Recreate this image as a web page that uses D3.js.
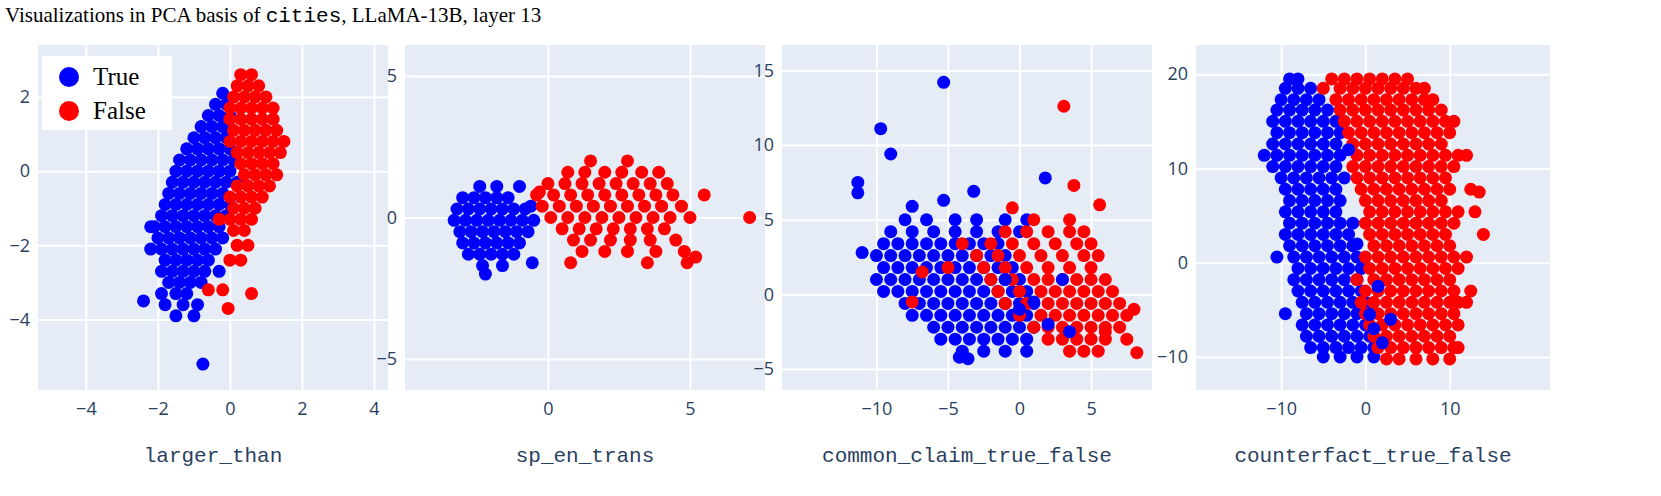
<!DOCTYPE html><html><head><meta charset="utf-8">
<script src="https://cdn.jsdelivr.net/npm/d3@7"></script>
<style>body{margin:0;background:#fff}</style></head><body><svg id="c" width="1661" height="496"></svg>
<script>
// rows: [y, x1, x2, ...]
const p1True=[[2.1,-0.2],[1.8,-0.4,-0.1],[1.5,-0.6,-0.3,0],[1.2,-0.8,-0.5,-0.2],[0.9,-1,-0.7,-0.4,-0.1],[0.6,-1.2,-0.9,-0.6,-0.3,0],[0.3,-1.4,-1.1,-0.8,-0.5,-0.2,0.1],[0,-1.5,-1.2,-0.9,-0.6,-0.3,0],[-0.3,-1.6,-1.3,-1,-0.7,-0.4,-0.1,0.2],[-0.6,-1.7,-1.4,-1.1,-0.8,-0.5,-0.2],[-0.9,-1.8,-1.5,-1.2,-0.9,-0.6,-0.3,0],[-1.2,-1.9,-1.6,-1.3,-1,-0.7,-0.4,-0.1],[-1.5,-2.1,-1.8,-1.5,-1.2,-0.9,-0.6,-0.3],[-1.8,-2,-1.7,-1.4,-1.1,-0.8,-0.5,-0.2],[-2.1,-2.2,-1.9,-1.6,-1.3,-1,-0.7,-0.4],[-2.4,-1.8,-1.5,-1.2,-0.9,-0.6],[-2.7,-1.9,-1.6,-1.3,-1,-0.7,-0.3],[-3,-1.7,-1.4,-1.1,-0.8],[-3.3,-1.9,-1.5,-1.2],[-3.6,-1.8,-1.3,-0.9],[-3.9,-1.5,-1],[-3.5,-2.4],[-5.2,-0.75],[-1.5,-2.2]];
const p1False=[[2.6,0.3,0.6],[2.3,0.2,0.5,0.8],[2,0.1,0.4,0.7,1],[1.7,0,0.3,0.6,0.9,1.2],[1.4,0,0.3,0.6,0.9,1.2],[1.1,0.1,0.4,0.7,1,1.3],[0.8,0,0.3,0.6,0.9,1.2,1.5],[0.5,0.2,0.5,0.8,1.1,1.4],[0.2,0.3,0.6,0.9,1.2],[-0.1,0.4,0.7,1,1.3],[-0.4,0.2,0.5,0.8,1.1],[-0.7,0,0.3,0.6,0.9],[-1,0.1,0.4,0.7],[-1.3,-0.3,0,0.3,0.6],[-1.6,0.1,0.4],[-2,0.2,0.5],[-2.4,0,0.3],[-3.2,-0.6,-0.2],[-3.3,0.6],[-3.7,-0.05]];
const p2True=[[1.1,-2.4,-1.8],[0.7,-3,-2.6,-2.2,-1.8,-1.4],[0.3,-3.2,-2.8,-2.4,-2,-1.6,-1.2,-0.8],[-0.1,-3.3,-2.9,-2.5,-2.1,-1.7,-1.3,-0.9,-0.5],[-0.5,-3.1,-2.7,-2.3,-1.9,-1.5,-1.1,-0.7],[-0.9,-3,-2.6,-2.2,-1.8,-1.4,-1],[-1.3,-2.8,-2.4,-2,-1.6,-1.2],[-1.7,-2.3,-1.6],[-2,-2.2],[-1.6,-0.55],[0.4,-0.6],[1.1,-1]];
const p2False=[[2,1.5,2.8],[1.6,0.7,1.3,2,2.6,3.3,3.9],[1.2,0,0.6,1.2,1.8,2.4,3,3.6,4.2],[0.8,-0.4,0.2,0.8,1.4,2,2.6,3.2,3.8,4.4,5.5],[0.4,-0.2,0.4,1,1.6,2.2,2.8,3.4,4,4.7],[0,0.1,0.7,1.3,1.9,2.5,3.1,3.7,4.3,5,7.1],[-0.4,0.5,1.1,1.7,2.3,2.9,3.5,4.1],[-0.8,0.9,1.5,2.2,2.9,3.6,4.5],[-1.2,1.2,2,2.8,3.8,4.8],[-1.6,0.8,3.5,4.9],[-1.4,5.2],[0.9,-0.3]];
const p3True=[[5,-8,-6.5,-4.5,-3,-1,0.5],[4.2,-9,-7.5,-6,-4.5,-3,-1.5,0],[3.4,-9.5,-8.5,-7.5,-6.5,-5.5,-4.5,-3.5,-2.5,-1.5],[2.6,-10,-9,-8,-7,-6,-5,-4,-3,-2,-1],[1.8,-9.5,-8.5,-7.5,-6.5,-5.5,-4.5,-3.5,-2.5,-1.5,-0.5],[1,-10,-9,-8,-7,-6,-5,-4,-3,-2,-1,0],[0.2,-9.5,-8.5,-7.5,-6.5,-5.5,-4.5,-3.5,-2.5,-1.5,-0.5,0.5],[-0.6,-8,-7,-6,-5,-4,-3,-2,-1,0,1],[-1.4,-7.5,-6.5,-5.5,-4.5,-3.5,-2.5,-1.5,-0.5,0.5],[-2.2,-6,-5,-4,-3,-2,-1,0,1],[-3,-5.5,-4.5,-3.5,-2.5,-1.5,-0.5,0.5],[-3.8,-4,-2.5,-1,0.5],[14.2,-5.3],[11.1,-9.7],[7.5,-11.3],[6.8,-11.3],[9.4,-9],[7.8,1.8],[6.9,-3.2],[6.3,-5.3],[-4.2,-4.2],[-4.3,-3.6],[2.8,-11],[5.9,-7.5]];
const p3False=[[5,1,3.5],[4.2,-1,0.5,2,3.5,4.5],[3.4,-4,-2,-0.5,1,2.5,4,5],[2.6,-3,-1.5,0,1.5,3,4.5,5.5],[1.8,-5,-2.5,-1,0.5,2,3.5,5],[1,-2,-0.5,1,2,3,4,5,6],[0.2,-1.5,0,1.5,2.5,3.5,4.5,5.5,6.5],[-0.6,-1,0.5,2,3,4,5,6,7],[-1.4,0,1.5,2.5,3.5,4.5,5.5,6.5,7.5],[-2.2,1,2,3,4,5,6,7],[-3,2,3,4,5,6,7.5],[-3.8,3.5,4.5,5.5],[12.6,3.1],[7.3,3.8],[6,5.6],[-3.9,8.2],[1.5,-6.8],[-0.5,-7.5],[-1,8],[5.8,-0.5],[-2.5,6]];
const p3TrueTop=[[1,-1,3],[-1,0],[-0.5,1],[-2,2],[-2.5,3.5]];
const p4True=[[19.5,-9,-8],[18.5,-9.5,-8,-6.5],[17.3,-10,-8.5,-7,-5.5],[16.2,-10.5,-9,-7.5,-6,-4.5],[15,-11,-9.5,-8,-6.5,-5,-3.5],[13.8,-10.5,-9,-7.5,-6,-4.5,-3],[12.6,-11,-9.5,-8,-6.5,-5,-3.5],[11.4,-12,-10.5,-9,-7.5,-6,-4.5,-3],[10.2,-11,-9.5,-8,-6.5,-5,-3.5],[9,-10,-8.5,-7,-5.5,-4,-2.5],[7.8,-9.5,-8,-6.5,-5,-3.5],[6.6,-9,-7.5,-6,-4.5,-3],[5.4,-9.5,-8,-6.5,-5,-3.5],[4.2,-9,-7.5,-6,-4.5,-3,-1.5],[3,-9.5,-8,-6.5,-5,-3.5,-2],[1.8,-9,-7.5,-6,-4.5,-3,-1.5],[0.6,-10.5,-8.5,-7,-5.5,-4,-2.5,-1],[-0.6,-8,-6.5,-5,-3.5,-2,-0.5],[-1.8,-8.5,-7,-5.5,-4,-2.5,-1],[-3,-8,-6.5,-5,-3.5,-2,-0.5],[-4.2,-7.5,-6,-4.5,-3,-1.5,0],[-5.4,-9.5,-7,-5.5,-4,-2.5,-1,0.5],[-6.6,-7.5,-6,-4.5,-3,-1.5,0],[-7.8,-7,-5.5,-4,-2.5,-1,0.5],[-9,-6.5,-5,-3.5,-2,-0.5,1],[-10,-5,-3,-1,1]];
const p4False=[[19.5,-4,-2.5,-1,0.5,2,3.5,5],[18.5,-5,-3,-1.5,0,1.5,3,4.5,6,7],[17.3,-3.5,-2,-0.5,1,2.5,4,5.5,7,8],[16.2,-3,-1.5,0,1.5,3,4.5,6,7.5,9],[15,-2.5,-1,0.5,2,3.5,5,6.5,8,9.5,10.5],[13.8,-2,-0.5,1,2.5,4,5.5,7,8.5,10],[12.6,-1.5,0,1.5,3,4.5,6,7.5,9],[11.4,-1,0.5,2,3.5,5,6.5,8,9.5,11,12],[10.2,-1.5,0,1.5,3,4.5,6,7.5,9,10.5],[9,-1,0.5,2,3.5,5,6.5,8,9.5],[7.8,-0.5,1,2.5,4,5.5,7,8.5,10,12.5],[6.6,0,1.5,3,4.5,6,7.5,9],[5.4,0.5,2,3.5,5,6.5,8,9.5,11,13],[4.2,0,1.5,3,4.5,6,7.5,9,10.5],[3,0.5,2,3.5,5,6.5,8,9.5,14],[1.8,1,2.5,4,5.5,7,8.5,10],[0.6,0,1.5,3,4.5,6,7.5,9,10.5,12],[-0.6,0.5,2,3.5,5,6.5,8,9.5,11],[-1.8,-1,1,2.5,4,5.5,7,8.5,10],[-3,0,1.5,3,4.5,6,7.5,9,10.5,12.5],[-4.2,-0.5,1,2.5,4,5.5,7,8.5,10,11,12],[-5.4,0,1.5,3,4.5,6,7.5,9,10.5],[-6.6,0.5,2,3.5,5,6.5,8,9.5,11],[-7.8,1,2.5,4,5.5,7,8.5,10],[-9,1.5,3,4.5,6,7.5,9,10.5,11],[-10.2,2.5,4,6,8,10],[7.5,13.5]];
const p4TrueTop=[[-7,1],[-8.5,2],[-5.5,0.5],[-6,3],[12,-2],[2,-1],[-2.5,1.5]];
const xTicks=[[-4,-2,0,2,4],[0,5],[-10,-5,0,5],[-10,0,10]];
const yTicks=[[2,0,-2,-4],[5,0,-5],[15,10,5,0,-5],[20,10,0,-10]];
const xLabels=["larger_than","sp_en_trans","common_claim_true_false","counterfact_true_false"];
const xDomains=[[-5.33,4.39],[-5.03,7.64],[-16.6,9.26],[-20.1,21.9]];
const yDomains=[[-5.9,3.4],[-6.1,6.1],[-6.4,16.7],[-13.5,23.1]];
const seriesNames=["True","False"];

const flat=rows=>rows.flatMap(r=>r.slice(1).map(x=>[x,r[0]]));
const panels=[
 {layers:[[p1True,"#0000ff"],[p1False,"#ff0000"]]},
 {layers:[[p2True,"#0000ff"],[p2False,"#ff0000"]]},
 {layers:[[p3True,"#0000ff"],[p3False,"#ff0000"],[p3TrueTop,"#0000ff"]]},
 {layers:[[p4True,"#0000ff"],[p4False,"#ff0000"],[p4TrueTop,"#0000ff"]]}];
const boxes=[[38,388],[405,765],[782,1152],[1196,1550]];
const plotTop=45,plotBot=390;
const svg=d3.select("#c");
svg.append("text").attr("x",5).attr("y",22).attr("font-family","Liberation Serif").attr("font-size",21).attr("fill","#000")
 .html('Visualizations in PCA basis of <tspan font-family="Liberation Mono">cities</tspan>, LLaMA-13B, layer 13');
panels.forEach((p,i)=>{
 const [l,r]=boxes[i];
 const x=d3.scaleLinear().domain(xDomains[i]).range([l,r]);
 const y=d3.scaleLinear().domain(yDomains[i]).range([plotBot,plotTop]);
 const g=svg.append("g");
 g.append("rect").attr("x",l).attr("y",plotTop).attr("width",r-l).attr("height",plotBot-plotTop).attr("fill","#e5ecf6");
 const gx=g.append("g").attr("transform",`translate(0,${plotBot})`).call(d3.axisBottom(x).tickValues(xTicks[i]).tickSize(-(plotBot-plotTop)).tickFormat(d=>d<0?"\u2212"+(-d):d));
 const gy=g.append("g").attr("transform",`translate(${l},0)`).call(d3.axisLeft(y).tickValues(yTicks[i]).tickSize(-(r-l)).tickFormat(d=>d<0?"\u2212"+(-d):d));
 [gx,gy].forEach(a=>{a.select(".domain").remove();a.selectAll("line").attr("stroke","#fff").attr("stroke-width",2);
  a.selectAll("text").attr("font-family","Open Sans").attr("font-size",18).attr("fill","#2a3f5f");});
 gx.selectAll("text").attr("dy","1.2em");
 gy.selectAll("text").attr("x",-8);
 const cg=g.append("g");
 p.layers.forEach(([rows,col])=>{
  cg.selectAll(null).data(flat(rows)).enter().append("circle").attr("cx",d=>x(d[0])).attr("cy",d=>y(d[1])).attr("r",6.5).attr("fill",col);
 });
 g.append("text").attr("x",(l+r)/2).attr("y",462).attr("text-anchor","middle").attr("font-family","Liberation Mono").attr("font-size",21).attr("fill","#2a3f5f").text(xLabels[i]);
});
const lg=svg.append("g");
lg.append("rect").attr("x",42).attr("y",56).attr("width",130).attr("height",74).attr("fill","#fff");
seriesNames.forEach((n,k)=>{
 lg.append("circle").attr("cx",69).attr("cy",77+k*34).attr("r",10).attr("fill",k?"#ff0000":"#0000ff");
 lg.append("text").attr("x",93).attr("y",85+k*34).attr("font-family","Liberation Serif").attr("font-size",25).attr("fill","#000").text(n);
});
</script></body></html>
